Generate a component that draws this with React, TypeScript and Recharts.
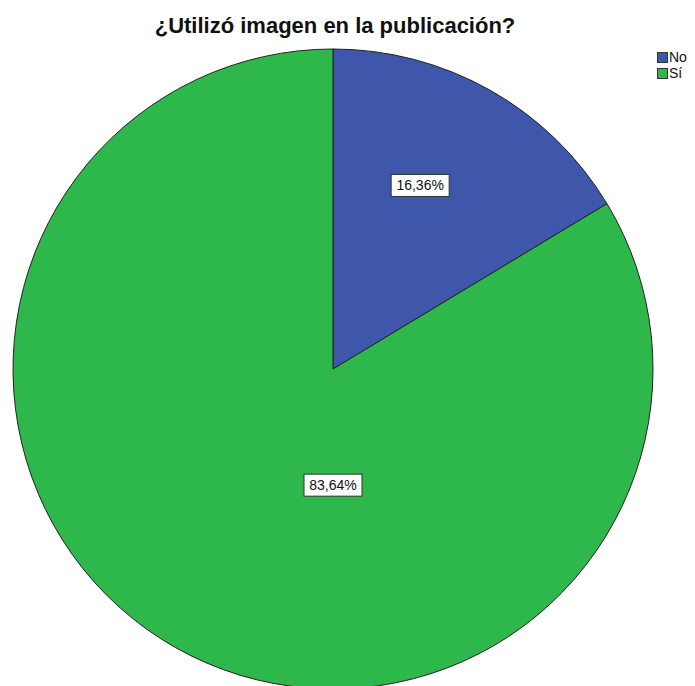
import React from 'react'
import { PieChart, Pie, Cell, Legend } from 'recharts'

const categories = ['No', 'Sí']
const percents = [16.36, 83.64]
const sliceColors = ['#3e57ab', '#2eb84b']

const chartData = categories.map((name, i) => ({ name, value: percents[i] }))

// SPSS places the labels a bit off the mid angle; offsets relative to the radius
const LABEL_SPOTS: Record<string, { angle: number; dist: number }> = {
  No: { angle: 64.6, dist: 0.635 },
  Sí: { angle: -90, dist: 0.363 },
}

const RADIAN = Math.PI / 180

function renderLabel(props: any) {
  const { cx, cy, outerRadius, payload, value } = props
  const spot = LABEL_SPOTS[payload.name]
  const x = cx + outerRadius * spot.dist * Math.cos(spot.angle * RADIAN)
  const y = cy - outerRadius * spot.dist * Math.sin(spot.angle * RADIAN)
  const text = `${value.toFixed(2).replace('.', ',')}%`
  const w = 58
  const h = 22
  return (
    <g>
      <rect x={x - w / 2} y={y - h / 2} width={w} height={h} fill="#ffffff" stroke="#333333" strokeWidth={1} />
      <text x={x} y={y + 5} textAnchor="middle" fontSize={14} fill="#111111" fontFamily="Liberation Sans, Arial, sans-serif">
        {text}
      </text>
    </g>
  )
}

function renderLegend(props: any) {
  const { payload } = props
  return (
    <div style={{ fontFamily: 'Liberation Sans, Arial, sans-serif', fontSize: 14, color: '#111', lineHeight: '16px' }}>
      {payload.map((entry: any) => (
        <div key={entry.value} style={{ display: 'flex', alignItems: 'center', height: 16 }}>
          <span
            style={{
              display: 'inline-block',
              width: 9,
              height: 9,
              background: entry.color,
              border: '1px solid #333',
              marginRight: 1,
            }}
          />
          <span>{entry.value}</span>
        </div>
      ))}
    </div>
  )
}

export default function App(): React.ReactElement {
  return (
    <div style={{ position: 'absolute', left: 0, top: 0, width: 695, height: 686, background: '#fff', overflow: 'hidden' }}>
      <div
        style={{
          position: 'absolute',
          left: 0,
          top: 13,
          width: 670,
          textAlign: 'center',
          fontFamily: 'Liberation Sans, Arial, sans-serif',
          fontWeight: 'bold',
          fontSize: 22,
          color: '#111',
        }}
      >
        ¿Utilizó imagen en la publicación?
      </div>
      <PieChart
        width={695}
        height={686}
        margin={{ top: 0, right: 0, bottom: 0, left: 0 }}
        style={{ position: 'absolute', left: 0, top: 0 }}
      >
        <Pie
          data={chartData}
          dataKey="value"
          nameKey="name"
          cx={333}
          cy={369}
          outerRadius={320}
          startAngle={90}
          endAngle={-270}
          stroke="#222222"
          strokeWidth={1}
          label={renderLabel}
          labelLine={false}
          isAnimationActive={false}
        >
          {chartData.map((entry, i) => (
            <Cell key={entry.name} fill={sliceColors[i]} />
          ))}
        </Pie>
        <Legend
          layout="vertical"
          align="right"
          verticalAlign="top"
          content={renderLegend}
          wrapperStyle={{ position: 'absolute', left: 657, top: 49, width: 40 }}
        />
      </PieChart>
    </div>
  )
}
